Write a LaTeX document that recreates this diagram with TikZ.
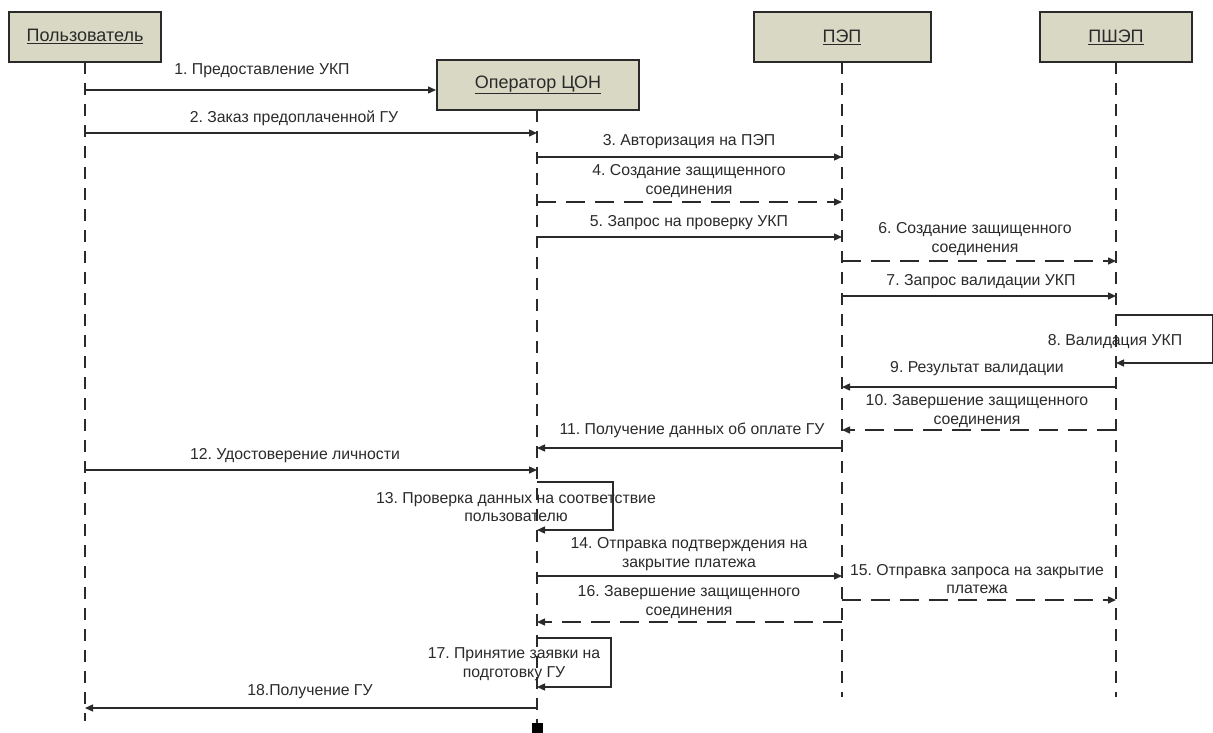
\documentclass[tikz,border=0pt]{standalone}
\usepackage{fontspec}
\setmainfont{Liberation Sans}
\usetikzlibrary{arrows.meta}
\definecolor{boxfill}{HTML}{D8D8C4}
\definecolor{ink}{HTML}{2A2A2A}
\definecolor{txt}{HTML}{2A2A2A}
\frenchspacing
\begin{document}
\begin{tikzpicture}[x=1pt,y=-1pt,
  actor/.style={draw=ink, line width=2pt, fill=boxfill, minimum height=50pt, inner sep=0pt, font=\fontsize{18}{21}\selectfont, text=txt},
  life/.style={draw=ink, line width=2pt, dash pattern=on 12pt off 9pt},
  msg/.style={draw=ink, line width=1.4pt, -{Triangle[length=8pt,width=7pt]}},
  rmsg/.style={msg, dash pattern=on 19pt off 10pt},
  loopmsg/.style={draw=ink, line width=1.4pt, -{Triangle[length=8pt,width=7pt]}},
  lbl/.style={font=\fontsize{15.8}{18.8}\selectfont, text=txt, align=center, inner sep=0pt},
]
\useasboundingbox (0,0) rectangle (1213,732);
% actors
\node[actor, minimum width=152pt] (u) at (85,36.5) {\underline{Пользователь}};
\node[actor, minimum width=202pt] (op) at (538,85) {\underline{Оператор ЦОН}};
\node[actor, minimum width=177pt] (pep) at (842,37) {\underline{ПЭП}};
\node[actor, minimum width=152pt] (psh) at (1116,37) {\underline{ПШЭП}};
% lifeline ends
\coordinate (uend) at (85,721);
\coordinate (opend) at (537,723);
\coordinate (pepend) at (842,697);
\coordinate (pshend) at (1116,697);
\draw[life] (85,62) -- (uend);
\draw[life] (537,110) -- (opend);
\draw[life] (842,62) -- (pepend);
\draw[life] (1116,62) -- (pshend);
\node[fill=black, minimum size=11pt, inner sep=0pt, anchor=north] (endbar) at (opend) {};
% 1
\draw[msg] (uend |- 0,90) -- (op.west |- 0,90);
\node[lbl] (l1) at (262,71) {1. Предоставление УКП};
% 2
\draw[msg] (uend |- 0,133) -- (opend |- 0,133);
\node[lbl] (l2) at (294,118) {2. Заказ предоплаченной ГУ};
% 3
\draw[msg] (opend |- 0,157) -- (pepend |- 0,157);
\node[lbl] (l3) at (689,142) {3. Авторизация на ПЭП};
% 4
\draw[rmsg] (opend |- 0,202) -- (pepend |- 0,202);
\node[lbl] (l4) at (689,181) {4. Создание защищенного\\соединения};
% 5
\draw[msg] (opend |- 0,237) -- (pepend |- 0,237);
\node[lbl] (l5) at (689,223) {5. Запрос на проверку УКП};
% 6
\draw[rmsg] (pepend |- 0,261) -- (pshend |- 0,261);
\node[lbl] (l6) at (975,239) {6. Создание защищенного\\соединения};
% 7
\draw[msg] (pepend |- 0,296) -- (pshend |- 0,296);
\node[lbl] (l7) at (981,282) {7. Запрос валидации УКП};
% 8 self
\coordinate (s8a) at (1213,315);
\coordinate (s8b) at (1213,363);
\draw[loopmsg] (pshend |- 0,315) -- (s8a) -- (s8b) -- (pshend |- 0,363);
\node[lbl] (l8) at (1115,342) {8. Валидация УКП};
% 9
\draw[msg] (pshend |- 0,387) -- (pepend |- 0,387);
\node[lbl] (l9) at (977,369) {9. Результат валидации};
% 10
\draw[rmsg] (pshend |- 0,430) -- (pepend |- 0,430);
\node[lbl] (l10) at (977,411) {10. Завершение защищенного\\соединения};
% 11
\draw[msg] (pepend |- 0,448) -- (opend |- 0,448);
\node[lbl] (l11) at (692,430) {11. Получение данных об оплате ГУ};
% 12
\draw[msg] (uend |- 0,470) -- (opend |- 0,470);
\node[lbl] (l12) at (295,456) {12. Удостоверение личности};
% 13 self
\coordinate (s13a) at (613,482);
\coordinate (s13b) at (613,530);
\draw[loopmsg] (opend |- 0,482) -- (s13a) -- (s13b) -- (opend |- 0,530);
\node[lbl] (l13) at (516,507) {13. Проверка данных на соответствие\\пользователю};
% 14
\draw[msg] (opend |- 0,576) -- (pepend |- 0,576);
\node[lbl] (l14) at (689,554) {14. Отправка подтверждения на\\закрытие платежа};
% 15
\draw[rmsg] (pepend |- 0,600) -- (pshend |- 0,600);
\node[lbl] (l15) at (977,579) {15. Отправка запроса на закрытие\\платежа};
% 16
\draw[rmsg] (pepend |- 0,622) -- (opend |- 0,622);
\node[lbl] (l16) at (689,602) {16. Завершение защищенного\\соединения};
% 17 self
\coordinate (s17a) at (611,638);
\coordinate (s17b) at (611,687);
\draw[loopmsg] (opend |- 0,638) -- (s17a) -- (s17b) -- (opend |- 0,687);
\node[lbl] (l17) at (514,664) {17. Принятие заявки на\\подготовку ГУ};
% 18
\draw[msg] (opend |- 0,708) -- (uend |- 0,708);
\node[lbl] (l18) at (310,692) {18.Получение ГУ};
\end{tikzpicture}
\end{document}
